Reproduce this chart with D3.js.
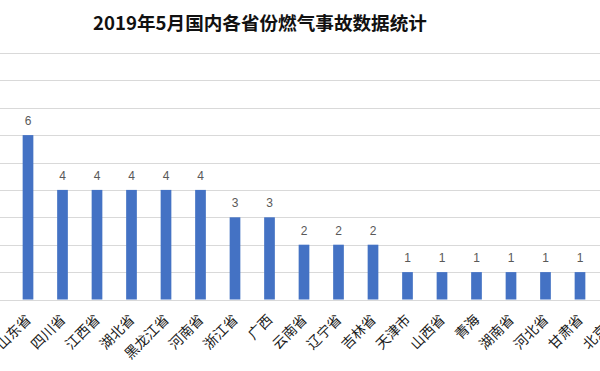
<!DOCTYPE html>
<html>
<head>
<meta charset="utf-8">
<script src="https://cdn.jsdelivr.net/npm/d3@7"></script>
<style>
  html, body { margin: 0; padding: 0; background: #fff; }
  svg { display: block; font-family: "Noto Sans CJK SC", "Liberation Sans", sans-serif; }
</style>
</head>
<body>
<div class="canva"></div>
<script>
const provinces = ['山东省', '四川省', '江西省', '湖北省', '黑龙江省', '河南省', '浙江省', '广西', '云南省',
  '辽宁省', '吉林省', '天津市', '山西省', '青海', '湖南省', '河北省', '甘肃省', '北京市'];
const accidents = [6, 4, 4, 4, 4, 4, 3, 3, 2, 2, 2, 1, 1, 1, 1, 1, 1, 1];
const gridTicks = [0, 1, 2, 3, 4, 5, 6, 7, 8, 9];
const title = '2019年5月国内各省份燃气事故数据统计';

const width = 600, height = 371;

const svg = d3.select('.canva').append('svg')
  .attr('width', width)
  .attr('height', height);

// chart is cropped on both sides, so the band range runs past the edges
const x = d3.scaleBand()
  .domain(provinces)
  .range([10.75, 10.75 + 34.5 * provinces.length])
  .paddingInner(0.69)
  .paddingOuter(0.345);

const y = d3.scaleLinear()
  .domain([0, 9])
  .range([299.5, 52.9]);

svg.append('text')
  .attr('x', 260)
  .attr('y', 30)
  .attr('text-anchor', 'middle')
  .attr('font-size', 18.6)
  .attr('font-weight', 'bold')
  .attr('fill', '#111')
  .text(title);

// gridlines
svg.append('g')
  .selectAll('line')
  .data(gridTicks)
  .join('line')
  .attr('x1', 0)
  .attr('x2', width)
  .attr('y1', d => Math.round(y(d)) + 0.5)
  .attr('y2', d => Math.round(y(d)) + 0.5)
  .attr('stroke', '#d9d9d9')
  .attr('stroke-width', 1.2);

svg.append('g')
  .selectAll('rect')
  .data(accidents)
  .join('rect')
  .attr('x', (d, i) => x(provinces[i]))
  .attr('width', x.bandwidth())
  .attr('y', d => y(d))
  .attr('height', d => y(0) - y(d))
  .attr('fill', '#4472c4');

svg.append('g')
  .selectAll('text')
  .data(accidents)
  .join('text')
  .attr('x', (d, i) => x(provinces[i]) + x.bandwidth() / 2)
  .attr('y', d => y(d) - 10)
  .attr('text-anchor', 'middle')
  .attr('font-family', 'Liberation Sans, sans-serif')
  .attr('font-size', 12)
  .attr('fill', '#595959')
  .text(d => d);

// category labels, rotated
svg.append('g')
  .selectAll('text')
  .data(provinces)
  .join('text')
  .attr('transform', d => `translate(${x(d) + x.bandwidth() / 2 + 4},${y(0) + 21}) rotate(-45)`)
  .attr('text-anchor', 'end')
  .attr('font-size', 14)
  .attr('fill', '#1a1a1a')
  .text(d => d);
</script>
</body>
</html>
